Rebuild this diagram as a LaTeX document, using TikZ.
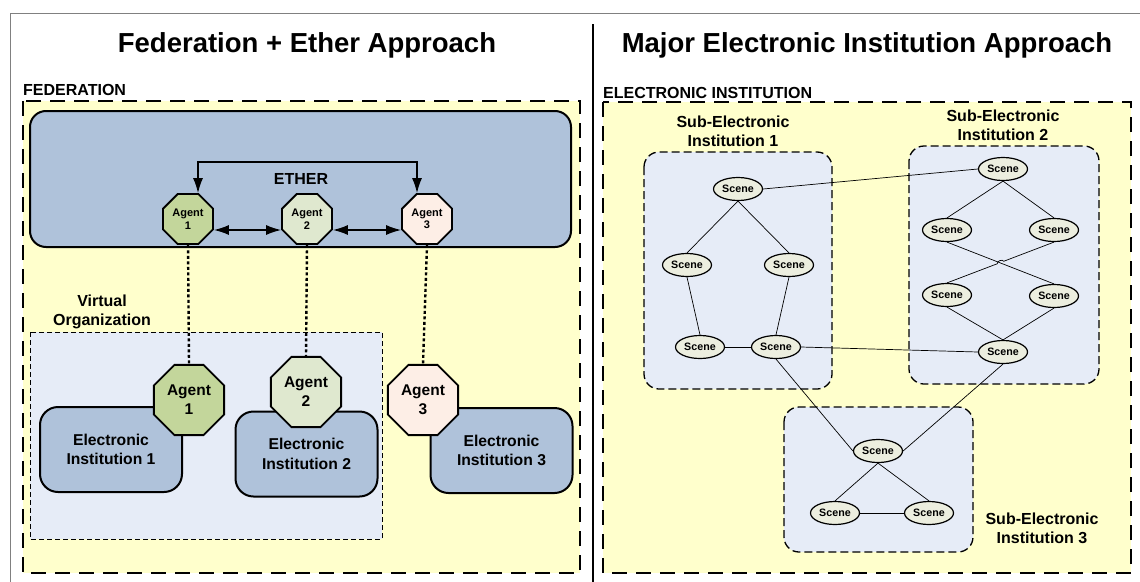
\documentclass[tikz,border=0pt]{standalone}
\usepackage{fontspec}
\setmainfont{Liberation Sans}
\usetikzlibrary{shapes.geometric, arrows.meta, calc}

\definecolor{fedyellow}{HTML}{FFFFCC}
\definecolor{etherblue}{HTML}{AFC2DA}
\definecolor{voblue}{HTML}{E6ECF7}
\definecolor{agentone}{HTML}{C3D69B}
\definecolor{agenttwo}{HTML}{DFE8CF}
\definecolor{agentthree}{HTML}{FDEEE6}
\definecolor{scenefill}{HTML}{ECEEDF}

\begin{document}
\begin{tikzpicture}[x=1pt, y=-1pt, font=\bfseries,
    every node/.style={align=center, inner sep=0pt},
    bigbox/.style={draw, fill=fedyellow, line width=2.6pt, dash pattern=on 15pt off 9pt},
    vobox/.style={draw, fill=voblue, line width=0.9pt, dash pattern=on 5pt off 3pt},
    subbox/.style={draw, fill=voblue, line width=1.3pt, dash pattern=on 8pt off 4pt, rounded corners=15pt},
    einst/.style={draw, fill=etherblue, line width=2pt, rounded corners=18pt, minimum width=142pt, minimum height=85pt, font=\bfseries\fontsize{15.7}{19.5}\selectfont},
    agent/.style={draw, regular polygon, regular polygon sides=8, line width=1.8pt, minimum size=54pt, font=\bfseries\fontsize{11}{12.5}\selectfont},
    bigagent/.style={agent, minimum size=76pt, font=\bfseries\fontsize{15.5}{19}\selectfont},
    scene/.style={draw, ellipse, fill=scenefill, line width=1.2pt, minimum width=49pt, minimum height=23pt, font=\bfseries\fontsize{10.7}{12}\selectfont},
    label/.style={font=\bfseries\fontsize{16}{19.5}\selectfont},
    title/.style={font=\bfseries\fontsize{27.5}{30}\selectfont},
    link/.style={line width=0.7pt},
    dbl/.style={line width=1.5pt, {Latex[length=15pt,width=10pt]}-{Latex[length=15pt,width=10pt]}},
    tie/.style={line width=2.4pt, dash pattern=on 3pt off 2.5pt}]
    \useasboundingbox (0,0) rectangle (1140,581);

    % Frame
    \draw[gray, line width=1pt] (10,13) rectangle (1142,584);
    \draw[line width=2.8pt] (593,24) -- (593,584);
    \node[title] (ltitle) at (307,45) {Federation + Ether Approach};
    \node[title] (rtitle) at (867,45) {Major Electronic Institution Approach};

    % Federation side
    \node[label, anchor=west] (fedlbl) at (23,90) {FEDERATION};
    \draw[bigbox] (23,101) rectangle (580,573);
    \draw[fill=etherblue, line width=2pt, rounded corners=16pt] (30,111) rectangle (571,247);
    \node[font=\bfseries\fontsize{16}{18}\selectfont] (ether) at (301,179) {ETHER};
    \node[label] (volbl) at (102,312) {Virtual\\Organization};
    \draw[vobox] (30,332) rectangle (382,539);

    \node[einst] (ei1) at (111,449.5) {Electronic\\Institution 1};
    \node[einst] (ei2) at (306.5,454) {Electronic\\Institution 2};
    \node[einst] (ei3) at (501.5,450.5) {Electronic\\Institution 3};

    \node[agent, fill=agentone] (ag1) at (188,219) {Agent\\1};
    \node[agent, fill=agenttwo] (ag2) at (307,219) {Agent\\2};
    \node[agent, fill=agentthree] (ag3) at (427,219) {Agent\\3};
    \node[bigagent, fill=agentone] (vag1) at (189,400) {Agent\\1};
    \node[bigagent, fill=agenttwo] (vag2) at (306,392) {Agent\\2};
    \node[bigagent, fill=agentthree] (vag3) at (423,400) {Agent\\3};

    \draw[dbl] ([yshift=-11pt]ag1.east) -- ([yshift=-11pt]ag2.west);
    \draw[dbl] ([yshift=-11pt]ag2.east) -- ([yshift=-11pt]ag3.west);
    \draw[dbl] ([xshift=10pt]ag1.north) -- ++(0,-31) -| ([xshift=-10pt]ag3.north);
    \draw[tie] (ag1.south) -- (vag1.north);
    \draw[tie] (ag2.south) -- (vag2.north);
    \draw[tie] (ag3.south) -- (vag3.north);

    % Electronic institution side
    \node[label, anchor=west] (eilbl) at (603,93) {ELECTRONIC INSTITUTION};
    \draw[bigbox] (603,102) rectangle (1131,573);
    \draw[subbox] (644,152) rectangle (832,389);
    \draw[subbox] (909,146) rectangle (1099,384);
    \draw[subbox] (784,407) rectangle (973,552);
    \node[font=\bfseries\fontsize{16}{19}\selectfont] (sub1) at (733,131.5) {Sub-Electronic\\Institution 1};
    \node[font=\bfseries\fontsize{16}{19}\selectfont] (sub2) at (1003,125.5) {Sub-Electronic\\Institution 2};
    \node[font=\bfseries\fontsize{16}{19}\selectfont] (sub3) at (1042,528.5) {Sub-Electronic\\Institution 3};

    % Scenes
    \node[scene] (s1a) at (738,189) {Scene};
    \node[scene] (s1b) at (687,265) {Scene};
    \node[scene] (s1c) at (789,265) {Scene};
    \node[scene] (s1d) at (700,347) {Scene};
    \node[scene] (s1e) at (776,347) {Scene};
    \node[scene] (s2a) at (1003,169) {Scene};
    \node[scene] (s2b) at (947,230) {Scene};
    \node[scene] (s2c) at (1054,230) {Scene};
    \node[scene] (s2d) at (947,295) {Scene};
    \node[scene] (s2e) at (1054,296) {Scene};
    \node[scene] (s2f) at (1003,352) {Scene};
    \node[scene] (s3a) at (878,451) {Scene};
    \node[scene] (s3b) at (835,513) {Scene};
    \node[scene] (s3c) at (929,513) {Scene};

    % Edges
    \draw[link] (s1a.south) -- (s1b.north);
    \draw[link] (s1a.south) -- (s1c.north);
    \draw[link] (s1b.south) -- (s1d.north);
    \draw[link] (s1c.south) -- (s1e.north);
    \draw[link] (s1d) -- (s1e);
    \draw[link] (s1a.east) -- (s2a.west);
    \draw[link] (s1e.east) -- (s2f.west);
    \draw[link] (s1e.south) -- (s3a.west);
    \draw[link] (s2f.south) -- (s3a.east);
    \draw[link] (s2a.south) -- (s2b.north);
    \draw[link] (s2a.south) -- (s2c.north);
    \draw[link] (s2b.south) -- (s2e.north);
    \draw[link] (s2c.south) -- ($(s2c.south)!.47!(s2d.north)$) to[bend right=90] ($(s2c.south)!.53!(s2d.north)$) -- (s2d.north);
    \draw[link] (s2d.south) -- (s2f.north);
    \draw[link] (s2e.south) -- (s2f.north);
    \draw[link] (s3a.south) -- (s3b.north);
    \draw[link] (s3a.south) -- (s3c.north);
    \draw[link] (s3b) -- (s3c);
\end{tikzpicture}
\end{document}
